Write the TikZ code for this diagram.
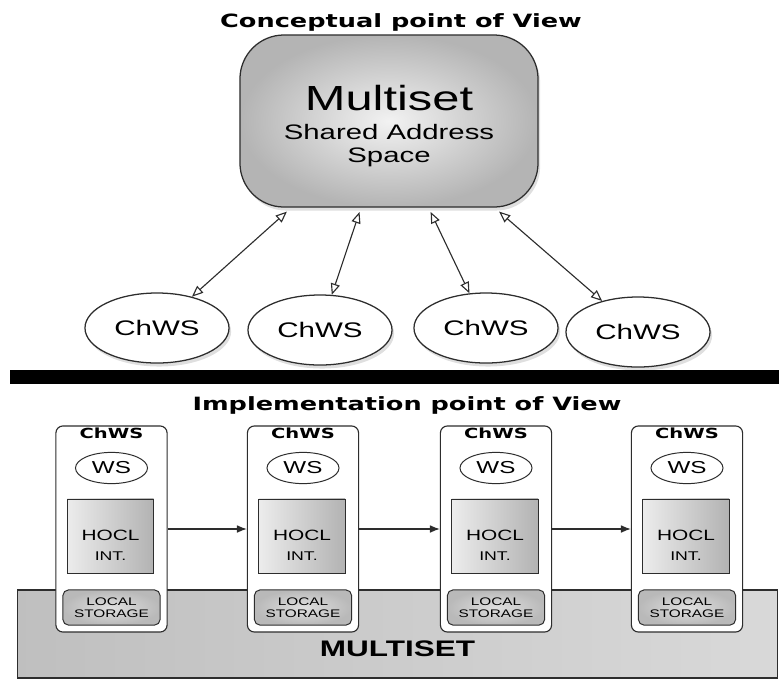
\documentclass[tikz,border=0pt]{standalone}
\usepackage{fontspec}
\usetikzlibrary{shapes,arrows.meta,positioning,shadows}
\newfontfamily\arialw[FakeStretch=1.4]{Liberation Sans}
\newfontfamily\verdw[FakeStretch=1.4]{DejaVu Sans}
\definecolor{ms-edge}{RGB}{45,45,45}
\definecolor{ms-light}{RGB}{242,242,242}
\definecolor{ms-dark}{RGB}{180,180,180}

\begin{document}
\begin{tikzpicture}[
        x=0.025cm, y=-0.025cm,
        soft/.style={drop shadow={shadow xshift=1.5pt, shadow yshift=-2.5pt, opacity=0.25}},
        viewtitle/.style={font=\verdw\bfseries\fontsize{13}{15}\selectfont, inner sep=0pt},
        multi/.style={draw=ms-edge, line width=0.9pt, rectangle, rounded corners=1.1cm, minimum width=7.45cm, minimum height=4.3cm, inner color=ms-light, outer color=ms-dark, align=center, font=\arialw\fontsize{14.9}{16.4}\selectfont, soft},
        chws/.style={draw=ms-edge, line width=0.9pt, ellipse, fill=white, minimum width=3.6cm, minimum height=1.75cm, inner sep=0pt, font=\arialw\fontsize{15}{17}\selectfont, soft},
        link/.style={{Triangle[open,length=8pt,width=6.5pt]}-{Triangle[open,length=8pt,width=6.5pt]}, line width=0.8pt, draw=ms-edge, shorten <=1pt},
        colbox/.style={draw=ms-edge, fill=white, rounded corners=5pt, line width=0.8pt, minimum width=2.78cm, minimum height=5.15cm},
        coltitle/.style={font=\verdw\bfseries\fontsize{9.9}{11}\selectfont, inner sep=0pt},
        wsnode/.style={draw=ms-edge, ellipse, fill=white, line width=0.7pt, minimum width=1.8cm, minimum height=0.78cm, inner sep=0pt, font=\arialw\fontsize{12.3}{14}\selectfont},
        hocl/.style={draw=ms-edge, rectangle, line width=0.7pt, left color=gray!15, right color=gray!60, minimum width=2.15cm, minimum height=1.85cm, align=center, font=\arialw\fontsize{10.6}{14}\selectfont},
        store/.style={draw=ms-edge, rectangle, rounded corners=4pt, line width=0.7pt, inner color=gray!25, outer color=gray!55, minimum width=2.43cm, minimum height=0.88cm, inner sep=1pt, align=center, font=\arialw\fontsize{7.8}{8.2}\selectfont},
        base/.style={draw=ms-edge, rectangle, line width=0.8pt, left color=gray!50, right color=gray!30, minimum width=18.975cm, inner sep=0pt, text height=47.3pt, text depth=15.3pt, anchor=base, font=\arialw\bfseries\fontsize{16}{18}\selectfont},
        flow/.style={-{Latex[length=7pt,width=5.5pt]}, line width=0.8pt, draw=ms-edge}
    ]
        \useasboundingbox (0,0) rectangle (779,680);

        % Conceptual view
        \node[viewtitle] (ctitle) at (401,22) {Conceptual point of View};
        \node[multi] (multi) at (389,121) {{\fontsize{24.8}{28}\selectfont\rule{0pt}{25.3pt}Multiset}\\[4.2pt]Shared Address\\Space};

        \node[chws] (c1) at (157,328) {ChWS};
        \node[chws] (c2) at (320,330) {ChWS};
        \node[chws] (c3) at (486,328) {ChWS};
        \node[chws] (c4) at (638,332) {ChWS};

        \draw[link] ([xshift=-2.525cm, yshift=-0.075cm]multi.south) -- (c1);
        \draw[link] ([xshift=-0.725cm, yshift=-0.075cm]multi.south) -- (c2);
        \draw[link] ([xshift=1.025cm, yshift=-0.075cm]multi.south) -- (c3);
        \draw[link] ([xshift=2.725cm, yshift=-0.075cm]multi.south) -- (c4);

        % separator
        \fill[black] (10,370) rectangle (779,384);

        % Implementation view
        \node[viewtitle] (ititle) at (407,405) {Implementation point of View};
        \node[base] (base) at (397.5,656.5) {MULTISET};

        \foreach \i/\x in {1/111.5, 2/303, 3/496, 4/687} {
            \node[colbox] (col\i) at (\x,529) {};
            \node[coltitle] (name\i) at (\x,433) {ChWS};
            \node[wsnode] (ws\i) at (\x,468) {WS};
            \node[hocl] (hocl\i) at (\x-1,536) {\rule{0pt}{21pt}HOCL\\{\fontsize{9}{10}\selectfont INT.}};
            \node[store] (store\i) at (\x,607.5) {LOCAL\\STORAGE};
        }

        \draw[flow] (col1) -- (col2);
        \draw[flow] (col2) -- (col3);
        \draw[flow] (col3) -- (col4);
    \end{tikzpicture}
\end{document}
